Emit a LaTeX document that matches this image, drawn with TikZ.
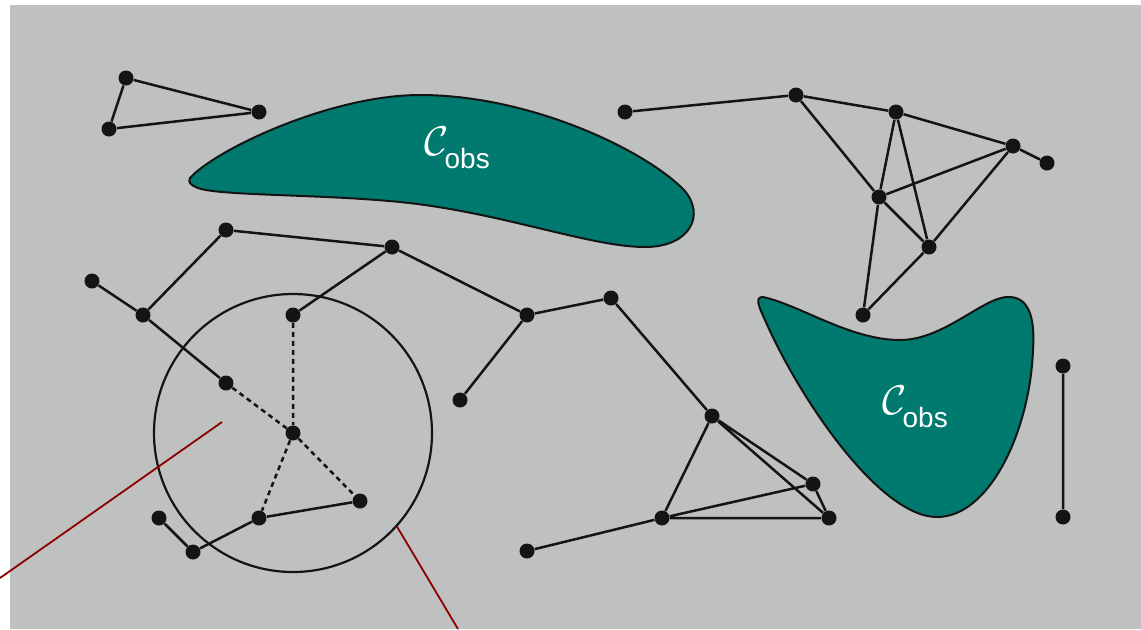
\documentclass[tikz,border=0pt]{standalone}
\usepackage{fontspec}
\newfontfamily\obsfont{Liberation Sans}
\definecolor{bg}{RGB}{190,193,191}
\definecolor{teal2}{RGB}{0,122,111}
\definecolor{dred}{RGB}{140,0,0}
\definecolor{ink}{RGB}{20,20,20}
\tikzset{
  vert/.style={circle, fill=ink, inner sep=0pt, minimum size=7.5pt},
  edge/.style={draw=ink, line width=1.25pt},
  dashedge/.style={edge, dash pattern=on 2.5pt off 2pt},
  obst/.style={fill=teal2, draw=ink, line width=1pt},
  callout/.style={draw=dred, line width=0.9pt},
  lbl/.style={text=white, inner sep=0pt, anchor=base west}
}
\newcommand{\cobs}{\fontsize{20}{20}\selectfont$\mathcal{C}$\kern-2pt\raisebox{-6.5pt}{\obsfont\fontsize{14}{14}\selectfont obs}}
\begin{document}
\begin{tikzpicture}[x=0.5pt,y=-0.5pt]
\useasboundingbox (0,0) rectangle (1141,629);
\fill[bg] (10,5) rectangle (1141,629);

% obstacles
\path[obst] (190,178) .. controls (215,150) and (330,95) .. (420,95)
  .. controls (530,95) and (645,150) .. (684,190)
  .. controls (706,215) and (690,247) .. (645,247)
  .. controls (590,247) and (500,212) .. (400,202)
  .. controls (320,194) and (220,196) .. (198,188)
  .. controls (190,185) and (188,182) .. (190,178) -- cycle;
\path[obst] (763,297) .. controls (800,305) and (850,340) .. (900,340)
  .. controls (945,340) and (985,295) .. (1010,297)
  .. controls (1030,298) and (1035,320) .. (1033,350)
  .. controls (1030,430) and (990,517) .. (937,517)
  .. controls (880,517) and (800,400) .. (765,320)
  .. controls (758,305) and (755,297) .. (763,297) -- cycle;
\node[lbl] (l1) at (424,155) {\cobs};
\node[lbl] (l2) at (882,414) {\cobs};

% vertices
\node[vert] (a1) at (126,78) {};
\node[vert] (a2) at (109,129) {};
\node[vert] (a3) at (259,112) {};

\node[vert] (b1) at (625,112) {};
\node[vert] (b2) at (796,95) {};
\node[vert] (b3) at (896,112) {};
\node[vert] (b4) at (1013,146) {};
\node[vert] (b5) at (1047,163) {};
\node[vert] (b6) at (879,197) {};
\node[vert] (b7) at (929,247) {};
\node[vert] (b8) at (863,315) {};

\node[vert] (c1) at (92,281) {};
\node[vert] (c2) at (143,315) {};
\node[vert] (c3) at (226,230) {};
\node[vert] (c4) at (392,247) {};
\node[vert] (c5) at (293,315) {};
\node[vert] (c6) at (527,315) {};
\node[vert] (c7) at (611,298) {};
\node[vert] (c8) at (460,400) {};
\node[vert] (c9) at (226,383) {};
\node[vert] (c10) at (293,433) {};
\node[vert] (c11) at (360,501) {};
\node[vert] (c12) at (259,518) {};
\node[vert] (c13) at (193,552) {};
\node[vert] (c14) at (159,518) {};
\node[vert] (c15) at (712,416) {};
\node[vert] (c16) at (813,484) {};
\node[vert] (c17) at (662,518) {};
\node[vert] (c18) at (829,518) {};
\node[vert] (c19) at (527,551) {};
\node[vert] (c20) at (1063,366) {};
\node[vert] (c21) at (1063,517) {};

% edges
\path[edge] (a1) -- (a2) (a1) -- (a3) (a2) -- (a3);
\path[edge] (b1) -- (b2) (b2) -- (b3) (b2) -- (b6) (b3) -- (b6) (b3) -- (b7)
  (b3) -- (b4) (b4) -- (b6) (b4) -- (b7) (b4) -- (b5) (b6) -- (b7)
  (b6) -- (b8) (b7) -- (b8);
\path[edge] (c1) -- (c2) (c2) -- (c3) (c3) -- (c4) (c4) -- (c5) (c4) -- (c6)
  (c6) -- (c7) (c6) -- (c8) (c7) -- (c15) (c2) -- (c9)
  (c12) -- (c11) (c12) -- (c13) (c13) -- (c14)
  (c15) -- (c17) (c15) -- (c16) (c15) -- (c18) (c16) -- (c17) (c17) -- (c18)
  (c16) -- (c18) (c19) -- (c17) (c20) -- (c21);
\path[dashedge] (c9) -- (c10) (c5) -- (c10) (c10) -- (c11) (c10) -- (c12);

% neighbourhood circle and callouts
\node[draw=ink, line width=1.1pt, circle, inner sep=0pt, minimum size=139pt] (zone) at (293,433) {};
\coordinate (p1) at (0,578);
\coordinate (q1) at (222,422);
\coordinate (p2) at (458,629);
\path[callout] (p1) -- (q1);
\path[callout] (zone.-42) -- (p2);
\end{tikzpicture}
\end{document}
